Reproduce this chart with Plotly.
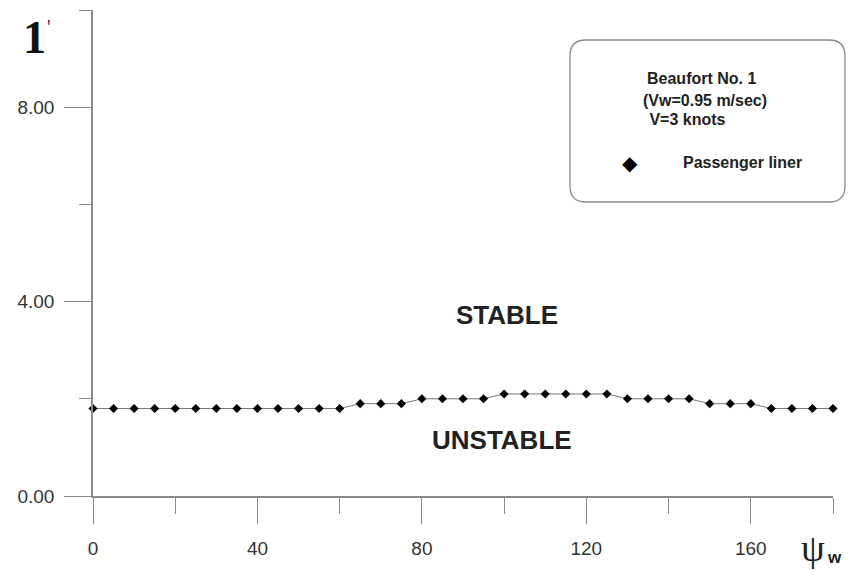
import plotly.graph_objects as go

# ---- data ----
psi_w = [0, 5, 10, 15, 20, 25, 30, 35, 40, 45, 50, 55, 60, 65, 70, 75, 80, 85, 90, 95,
         100, 105, 110, 115, 120, 125, 130, 135, 140, 145, 150, 155, 160, 165, 170, 175, 180]
stab = [1.8, 1.8, 1.8, 1.8, 1.8, 1.8, 1.8, 1.8, 1.8, 1.8, 1.8, 1.8, 1.8,
        1.9, 1.9, 1.9, 2.0, 2.0, 2.0, 2.0,
        2.1, 2.1, 2.1, 2.1, 2.1, 2.1,
        2.0, 2.0, 2.0, 2.0,
        1.9, 1.9, 1.9,
        1.8, 1.8, 1.8, 1.8]
series_name = "Passenger liner"

W, H = 854, 570
L, R, T, B = 93, 21, 10, 74
PW, PH = W - L - R, H - T - B


def px(x):
    return (x - L) / PW


def py(y):
    return (H - B - y) / PH


GRAY = "#8a8a8a"
FONT = "Liberation Sans, Arial, sans-serif"
SERIF = "Liberation Serif, Times New Roman, serif"

fig = go.Figure()
fig.add_trace(go.Scatter(
    x=psi_w, y=stab, mode="lines+markers", name=series_name,
    line=dict(color="#777777", width=1),
    marker=dict(symbol="diamond", size=7, color="black"),
    cliponaxis=False, showlegend=False,
))

fig.update_layout(
    width=W, height=H,
    margin=dict(l=L, r=R, t=T, b=B),
    paper_bgcolor="white", plot_bgcolor="white",
    showlegend=False,
    font=dict(family=FONT, color="#333333", size=19),
    xaxis=dict(
        range=[0, 180], tickmode="linear", tick0=0, dtick=40,
        ticks="outside", ticklen=26, tickwidth=1.2, tickcolor=GRAY,
        minor=dict(tickmode="linear", tick0=0, dtick=20, ticks="outside", ticklen=16,
                   tickwidth=1.2, tickcolor=GRAY),
        showline=True, linecolor=GRAY, linewidth=1.5,
        showgrid=False, zeroline=False, ticklabelstandoff=8,
        tickfont=dict(size=19, color="#333333"),
    ),
    yaxis=dict(
        range=[0, 10], tickmode="linear", tick0=0, dtick=4, tickformat=".2f",
        ticks="outside", ticklen=27, tickwidth=1.2, tickcolor=GRAY,
        minor=dict(tickmode="linear", tick0=0, dtick=2, ticks="outside", ticklen=12,
                   tickwidth=1.2, tickcolor=GRAY),
        showline=True, linecolor=GRAY, linewidth=1.5,
        showgrid=False, zeroline=False, ticklabelstandoff=6,
        tickfont=dict(size=19, color="#333333"),
    ),
)

# extend y axis line below zero (the tick at x=0)
fig.add_shape(type="line", xref="x", yref="paper", x0=0, x1=0, y0=0, y1=py(522),
              line=dict(color=GRAY, width=1.5))

# legend box (rounded rectangle)
x0, x1, y0, y1, r = 570, 845, 40, 202, 16
path = (f"M {px(x0 + r)},{py(y0)} L {px(x1 - r)},{py(y0)} "
        f"Q {px(x1)},{py(y0)} {px(x1)},{py(y0 + r)} "
        f"L {px(x1)},{py(y1 - r)} Q {px(x1)},{py(y1)} {px(x1 - r)},{py(y1)} "
        f"L {px(x0 + r)},{py(y1)} Q {px(x0)},{py(y1)} {px(x0)},{py(y1 - r)} "
        f"L {px(x0)},{py(y0 + r)} Q {px(x0)},{py(y0)} {px(x0 + r)},{py(y0)} Z")
fig.add_shape(type="path", xref="paper", yref="paper", path=path,
              line=dict(color=GRAY, width=1.3), fillcolor="rgba(0,0,0,0)")


def ann(text, x, y, size, xanchor="left", family=FONT, color="#222222", bold=True):
    t = f"<b>{text}</b>" if bold else text
    fig.add_annotation(text=t, xref="paper", yref="paper", x=px(x), y=py(y),
                       xanchor=xanchor, yanchor="middle", showarrow=False,
                       font=dict(family=family, size=size, color=color))


ann("Beaufort No. 1", 645, 78, 16)
ann("(Vw=0.95 m/sec)", 641, 100, 16)
ann(" V=3 knots", 643, 120, 16)
ann("◆", 630, 163, 20, xanchor="center", family="DejaVu Sans", color="black", bold=False)
ann(series_name, 681, 163, 16)

ann("STABLE", 507, 315, 26, xanchor="center")
ann("UNSTABLE", 502, 440, 26, xanchor="center")

ann("1", 34, 38, 46, xanchor="center", family=SERIF, color="#111111", bold=True)
ann("'", 49, 27, 20, xanchor="center", family=SERIF, color="#333333", bold=False)
ann("ψ", 813, 548, 38, xanchor="center", family=SERIF, color="#222222", bold=False)
ann("w", 834, 557, 17, xanchor="center", color="#222222", bold=True)

fig.write_html("out.html")
